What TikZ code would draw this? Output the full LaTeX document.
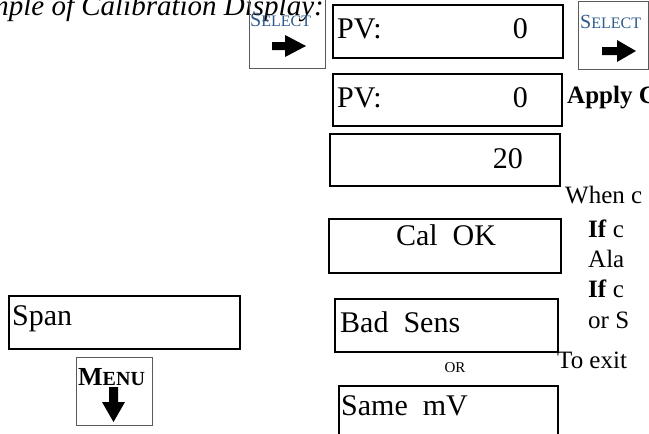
\documentclass[tikz,border=0pt]{standalone}
\usepackage{fontspec}
\setmainfont{Liberation Serif}
\definecolor{selblue}{RGB}{46,90,140}
\definecolor{keygray}{RGB}{90,90,90}
\begin{document}
\begin{tikzpicture}[x=1pt,y=-1pt,
  disp/.style={draw=black, line width=1.5pt, rectangle, inner sep=0pt, anchor=north west},
  keybox/.style={draw=keygray, line width=0.9pt, rectangle, inner sep=0pt, anchor=north west},
  lcd/.style={font=\fontsize{30}{30}\selectfont, inner sep=0pt, anchor=base west},
  lcdr/.style={lcd, anchor=base east},
  side/.style={font=\fontsize{25}{25}\selectfont, inner sep=0pt, anchor=base west},
  seltext/.style={text=selblue, inner sep=0pt, anchor=base west},
  keyarrow/.style={fill=black}
]
\useasboundingbox (0,0) rectangle (649,434);
\clip (0,0) rectangle (649,434);

% title
\node[anchor=base east, inner sep=0pt, font=\itshape\fontsize{29}{29}\selectfont] (title) at (324,15) {Example of Calibration Display:};

% SELECT keys
\node[keybox, minimum width=76pt, minimum height=69pt] (selL) at (249,-1) {};
\node[seltext] (selLt) at (250,26) {\fontsize{20}{20}\selectfont S\fontsize{16}{16}\selectfont ELECT};
\fill[keyarrow] (272,42) -- (285,42) -- (285,35) -- (306,46) -- (285,57) -- (285,50) -- (272,50) -- cycle;

\node[keybox, minimum width=70pt, minimum height=68pt] (selR) at (578,1) {};
\node[seltext] (selRt) at (580,28) {\fontsize{20}{20}\selectfont S\fontsize{16}{16}\selectfont ELECT};
\fill[keyarrow] (602,47) -- (617,47) -- (617,40) -- (636,51) -- (617,62) -- (617,55) -- (602,55) -- cycle;

% display boxes
\node[disp, minimum width=230pt, minimum height=53pt] (pv1) at (332,4) {};
\node[lcd] (pv1a) at (337,38) {PV:};
\node[lcdr] (pv1b) at (528,38) {0};

\node[disp, minimum width=229pt, minimum height=52pt] (pv2) at (332,73) {};
\node[lcd] (pv2a) at (337,107) {PV:};
\node[lcdr] (pv2b) at (528,107) {0};

\node[disp, minimum width=230pt, minimum height=52pt] (b20) at (329,133) {};
\node[lcdr] (b20t) at (523,168) {20};

\node[disp, minimum width=232pt, minimum height=54pt] (calok) at (328,218) {};
\node[lcd, anchor=base] (calokt) at (446,245) {Cal\ \ OK};

\node[disp, minimum width=231pt, minimum height=53pt] (span) at (8,295) {};
\node[lcd] (spant) at (12,325) {Span};

\node[keybox, minimum width=76pt, minimum height=68pt] (menu) at (76,357) {};
\node[inner sep=0pt, anchor=base west] (menut) at (78,385) {\bfseries\fontsize{26}{26}\selectfont M\fontsize{20}{20}\selectfont ENU};
\fill[keyarrow] (109,387) -- (118,387) -- (118,402) -- (125,402) -- (113.5,422) -- (102,402) -- (109,402) -- cycle;

\node[disp, minimum width=223pt, minimum height=53pt] (bad) at (334,298) {};
\node[lcd] (badt) at (340,332) {Bad\ \ Sens};

\node[inner sep=0pt, anchor=base, font=\fontsize{15}{15}\selectfont] (or) at (455,372) {OR};

\node[disp, minimum width=219pt, minimum height=60pt] (same) at (338,385) {};
\node[lcd] (samet) at (341,415) {Same\ \ mV};

% side text
\node[side, font=\bfseries\fontsize{25}{25}\selectfont] (apply) at (567,103) {Apply C};
\node[side] (when) at (565,203) {When c};
\node[side] (if1) at (588,237) {\textbf{If} c};
\node[side] (ala) at (588,267) {Ala};
\node[side] (if2) at (588,297) {\textbf{If} c};
\node[side] (ors) at (588,328) {or S};
\node[side] (exit) at (557,368) {To exit};
\end{tikzpicture}
\end{document}
